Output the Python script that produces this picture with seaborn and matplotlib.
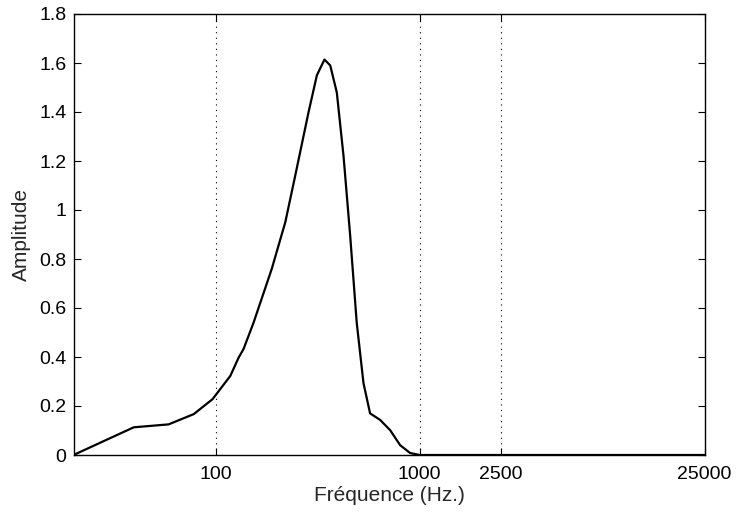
import numpy as np
import pandas as pd
import matplotlib
matplotlib.use("Agg")
import matplotlib.pyplot as plt
import seaborn as sns

# values
freq = [20, 39.5, 58.6, 77.9, 96.3, 117.7, 129, 136.7, 153, 188, 219,
        245, 285, 313, 341, 364, 392, 423, 456, 491, 530, 571, 640, 717,
        802, 898, 1000, 25000]
amplitude = [0, 0.113, 0.125, 0.167, 0.228, 0.323, 0.396, 0.433, 0.54,
             0.76, 0.95, 1.14, 1.40, 1.55, 1.614, 1.59, 1.48, 1.22, 0.895,
             0.54, 0.293, 0.17, 0.143, 0.101, 0.04, 0.008, 0, 0]

xtick_vals = [100, 1000, 2500, 25000]
xtick_labels = ["100", "1000", "2500", "25000"]
ytick_vals = [0, 0.2, 0.4, 0.6, 0.8, 1, 1.2, 1.4, 1.6, 1.8]
ytick_labels = ["0", "0.2", "0.4", "0.6", "0.8", "1", "1.2", "1.4", "1.6", "1.8"]

df = pd.DataFrame({"freq": freq, "amp": amplitude})

sns.set_style("ticks")
plt.rcParams["font.family"] = ["Liberation Sans", "DejaVu Sans"]

fig = plt.figure(figsize=(7.37, 5.13), dpi=100)
ax = fig.add_axes([73.5 / 737, 58 / 513, 631 / 737, 441 / 513])

sns.lineplot(data=df, x="freq", y="amp", color="black", linewidth=1.6, ax=ax)

ax.set_xscale("log")
ax.set_xlim(20, 25000)
ax.set_ylim(0, 1.8)

ax.set_xticks(xtick_vals)
ax.set_xticklabels(xtick_labels)
ax.xaxis.set_minor_locator(matplotlib.ticker.NullLocator())
ax.set_yticks(ytick_vals)
ax.set_yticklabels(ytick_labels)

for xv in xtick_vals[:-1]:
    ax.axvline(xv, color="black", linestyle=(0, (1, 4)), linewidth=0.8)

ax.tick_params(direction="in", top=True, right=True, length=5, width=0.8,
               labelsize=14, colors="black")
ax.tick_params(axis="x", pad=8)
ax.tick_params(axis="y", pad=5)
for side in ax.spines.values():
    side.set_visible(True)
    side.set_color("black")
    side.set_linewidth(1.0)

ax.set_xlabel("Fréquence (Hz.)", fontsize=15, labelpad=2)
ax.set_ylabel("Amplitude", fontsize=15, labelpad=6)

fig.savefig("out.png", dpi=100)
plt.close()
